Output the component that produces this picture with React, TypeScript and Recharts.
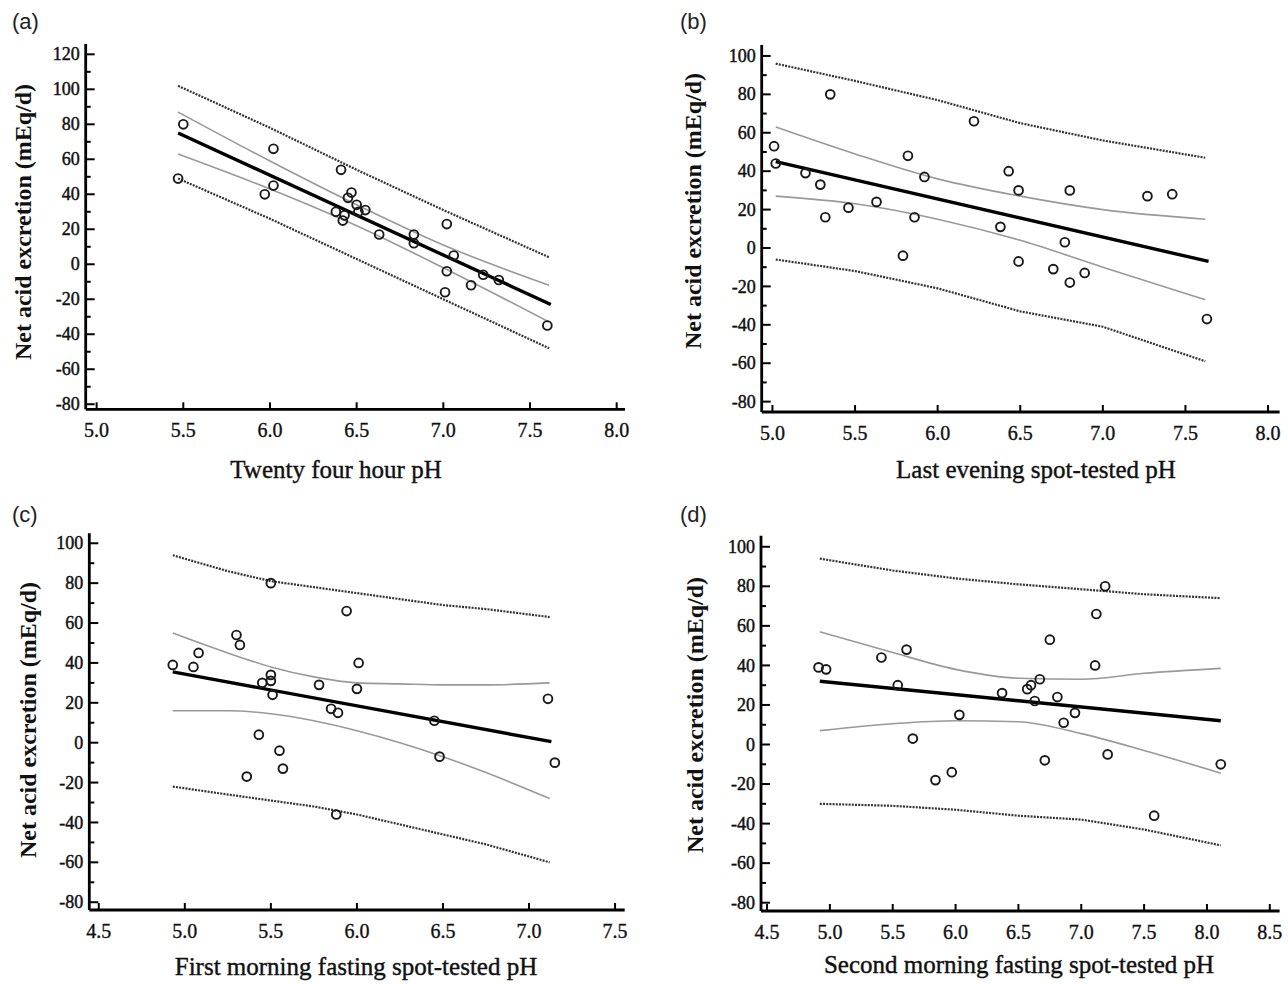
import React from 'react';
import { ComposedChart, Line, Scatter, XAxis, YAxis } from 'recharts';

// (a) Twenty four hour pH
const pHA = [5.47, 5.5, 6.02, 5.97, 6.02, 6.41, 6.38, 6.42, 6.43, 6.45, 6.47, 6.5, 6.51, 6.55, 6.63, 6.83, 6.83, 7.02, 7.02, 7.01, 7.06, 7.16, 7.23, 7.32, 7.6];
const naeA = [49, 80, 66, 40, 45, 54, 30, 25, 28, 38, 41, 34, 30, 31, 17, 17, 12, 23, -4, -16, 5, -12, -6, -9, -35];
const bandXA = [5.47, 6.0, 6.5, 7.0, 7.61];
const ciUpA = [87, 59, 34, 11, -12];
const ciLoA = [63, 43, 22, -2, -33];
const piUpA = [102, 78, 54, 31, 4];
const piLoA = [49, 26, 3, -20, -48];
const fitXA = [5.47, 7.62];
const fitA = [75, -23];

// (b) Last evening spot-tested pH
const pHB = [5.01, 5.02, 5.2, 5.29, 5.32, 5.35, 5.46, 5.63, 5.79, 5.82, 5.86, 5.92, 6.22, 6.38, 6.43, 6.49, 6.49, 6.7, 6.77, 6.8, 6.8, 6.89, 7.27, 7.42, 7.63];
const naeB = [53, 44, 39, 33, 16, 80, 21, 24, -4, 48, 16, 37, 66, 11, 40, 30, -7, -11, 3, 30, -18, -13, 27, 28, -37];
const bandXB = [5.02, 5.5, 6.0, 6.5, 7.0, 7.62];
const ciUpB = [63, 49, 36, 27, 20, 15];
const ciLoB = [27, 23, 15, 4, -10, -27];
const piUpB = [96, 87, 77, 65, 56, 47];
const piLoB = [-6, -12, -21, -33, -41, -59];
const fitXB = [5.02, 7.64];
const fitB = [45, -7];

// (c) First morning fasting spot-tested pH
const pHC = [4.93, 5.05, 5.08, 5.3, 5.32, 5.36, 5.43, 5.45, 5.5, 5.5, 5.5, 5.51, 5.55, 5.57, 5.78, 5.85, 5.89, 5.88, 5.94, 6.0, 6.01, 6.45, 6.48, 7.11, 7.15];
const naeC = [39, 38, 45, 54, 49, -17, 4, 30, 80, 34, 31, 24, -4, -13, 29, 17, 15, -36, 66, 27, 40, 11, -7, 22, -10];
const bandXC = [4.93, 5.25, 5.5, 5.75, 6.0, 6.25, 6.5, 6.75, 7.12];
const ciUpC = [55, 45, 38, 33, 30, 29.5, 29, 29, 30];
const ciLoC = [16, 16, 14.5, 11, 6, 0, -7, -15, -28];
const piUpC = [94, 86, 81, 78, 75, 72, 69, 67, 63];
const piLoC = [-22, -26, -29, -32, -36, -41, -46, -51, -60];
const fitXC = [4.93, 7.13];
const fitC = [35.5, 0.5];

// (d) Second morning fasting spot-tested pH
const pHD = [4.91, 4.97, 5.41, 5.54, 5.61, 5.66, 5.84, 5.97, 6.03, 6.37, 6.57, 6.6, 6.63, 6.67, 6.75, 6.71, 6.81, 6.86, 6.95, 7.11, 7.12, 7.19, 7.21, 7.58, 8.11];
const naeD = [39, 38, 44, 30, 48, 3, -18, -14, 15, 26, 28, 30, 22, 33, 53, -8, 24, 11, 16, 40, 66, 80, -5, -36, -10];
const bandXD = [4.92, 5.5, 6.0, 6.5, 7.0, 7.5, 8.11];
const ciUpD = [57, 46.5, 38, 33.5, 33, 36, 38.5];
const ciLoD = [7, 10.5, 12, 11.5, 5.5, -3, -14.5];
const piUpD = [94, 88, 84, 81, 78.5, 76, 74];
const piLoD = [-30, -31, -33, -36, -38, -43, -51];
const fitXD = [4.92, 8.11];
const fitD = [32, 12];

const xTicksAB = [5.0, 5.5, 6.0, 6.5, 7.0, 7.5, 8.0];
const xTicksC = [4.5, 5.0, 5.5, 6.0, 6.5, 7.0, 7.5];
const xTicksD = [4.5, 5.0, 5.5, 6.0, 6.5, 7.0, 7.5, 8.0, 8.5];
const yTicksA = [-80, -70, -60, -50, -40, -30, -20, -10, 0, 10, 20, 30, 40, 50, 60, 70, 80, 90, 100, 110, 120];
const yTicksBCD = [-80, -70, -60, -50, -40, -30, -20, -10, 0, 10, 20, 30, 40, 50, 60, 70, 80, 90, 100];

const toPts = (xs: number[], ys: number[]) => xs.map((x, i) => ({ x, y: ys[i] }));

const SERIF = '"Liberation Serif", "DejaVu Serif", serif';
const SANS = '"Liberation Sans", Arial, sans-serif';

function XTick(props: any) {
  const { x, y, payload } = props;
  return (
    <g>
      <line x1={x} y1={y} x2={x} y2={y - 7} stroke="#000" strokeWidth={2} />
      <text x={x} y={y + 28} textAnchor="middle" fontFamily={SERIF} fontSize={20} fill="#111" stroke="#111" strokeWidth={0.35}>
        {Number(payload.value).toFixed(1)}
      </text>
    </g>
  );
}

function YTick(props: any) {
  const { x, y, payload } = props;
  const major = Math.round(payload.value) % 20 === 0;
  return (
    <g>
      <line x1={x} y1={y} x2={x + (major ? 9 : 5)} y2={y} stroke="#000" strokeWidth={2} />
      {major && (
        <text x={x - 6} y={y} dy="0.34em" textAnchor="end" fontFamily={SERIF} fontSize={18} fill="#111" stroke="#111" strokeWidth={0.45}>
          {payload.value}
        </text>
      )}
    </g>
  );
}

const Ring = (p: any) => (
  <circle cx={p.cx} cy={p.cy} r={4.4} fill="none" stroke="#1a1a1a" strokeWidth={1.9} />
);

interface PanelProps {
  box: { left: number; top: number; w: number; h: number };
  plot: { x0: number; x1: number; y0: number; y1: number };
  xDomain: number[];
  yDomain: number[];
  xTicks: number[];
  yTicks: number[];
  points: { x: number; y: number }[];
  fit: { x: number; y: number }[];
  ciUp: { x: number; y: number }[];
  ciLo: { x: number; y: number }[];
  piUp: { x: number; y: number }[];
  piLo: { x: number; y: number }[];
}

function Panel({ box, plot, xDomain, yDomain, xTicks, yTicks, points, fit, ciUp, ciLo, piUp, piLo }: PanelProps) {
  const margin = {
    left: plot.x0 - box.left - 50,
    top: plot.y0 - box.top,
    right: box.left + box.w - plot.x1,
    bottom: box.top + box.h - plot.y1 - 40,
  };
  const axisLine = { stroke: '#000', strokeWidth: 2.8 };
  const dotted = { stroke: '#333', strokeWidth: 2.2, strokeDasharray: '2 1.2' };
  const ci = { stroke: '#999', strokeWidth: 1.6 };
  return (
    <div style={{ position: 'absolute', left: box.left, top: box.top }}>
      <ComposedChart width={box.w} height={box.h} margin={margin}>
        <XAxis
          type="number"
          dataKey="x"
          domain={xDomain}
          ticks={xTicks}
          interval={0}
          allowDataOverflow
          height={40}
          tickSize={0}
          tickMargin={0}
          tickLine={false}
          axisLine={axisLine}
          tick={(p: any) => <XTick {...p} />}
        />
        <YAxis
          type="number"
          dataKey="y"
          domain={yDomain}
          ticks={yTicks}
          interval={0}
          allowDataOverflow
          width={50}
          tickSize={0}
          tickMargin={0}
          tickLine={false}
          axisLine={axisLine}
          tick={(p: any) => <YTick {...p} />}
        />
        <Line data={piUp} dataKey="y" dot={false} activeDot={false} {...dotted} isAnimationActive={false} />
        <Line data={piLo} dataKey="y" dot={false} activeDot={false} {...dotted} isAnimationActive={false} />
        <Line data={ciUp} dataKey="y" type="monotone" dot={false} activeDot={false} {...ci} isAnimationActive={false} />
        <Line data={ciLo} dataKey="y" type="monotone" dot={false} activeDot={false} {...ci} isAnimationActive={false} />
        <Line data={fit} dataKey="y" dot={false} activeDot={false} stroke="#000" strokeWidth={3.4} isAnimationActive={false} />
        <Scatter data={points} shape={Ring} isAnimationActive={false} />
      </ComposedChart>
    </div>
  );
}

export default function App() {
  const titleStyle = { fontFamily: SERIF, fontSize: 25, fill: '#111', stroke: '#111', strokeWidth: 0.4 };
  const yTitleStyle = { fontFamily: SERIF, fontSize: 24, fontWeight: 700, fill: '#111' };
  const letterStyle = { fontFamily: SANS, fontSize: 22, fill: '#222' };
  const yTitle = 'Net acid excretion (mEq/d)';
  return (
    <div style={{ position: 'absolute', left: 0, top: 0, width: 1288, height: 984, background: '#fff' }}>
      <Panel
        box={{ left: 0, top: 0, w: 644, h: 492 }}
        plot={{ x0: 85.7, x1: 625, y0: 44, y1: 409.3 }}
        xDomain={[4.937, 8.048]}
        yDomain={[-82.9, 125.9]}
        xTicks={xTicksAB}
        yTicks={yTicksA}
        points={toPts(pHA, naeA)}
        fit={toPts(fitXA, fitA)}
        ciUp={toPts(bandXA, ciUpA)}
        ciLo={toPts(bandXA, ciLoA)}
        piUp={toPts(bandXA, piUpA)}
        piLo={toPts(bandXA, piLoA)}
      />
      <Panel
        box={{ left: 644, top: 0, w: 644, h: 492 }}
        plot={{ x0: 761.7, x1: 1279.6, y0: 45, y1: 412 }}
        xDomain={[4.935, 8.07]}
        yDomain={[-85.4, 105.7]}
        xTicks={xTicksAB}
        yTicks={yTicksBCD}
        points={toPts(pHB, naeB)}
        fit={toPts(fitXB, fitB)}
        ciUp={toPts(bandXB, ciUpB)}
        ciLo={toPts(bandXB, ciLoB)}
        piUp={toPts(bandXB, piUpB)}
        piLo={toPts(bandXB, piLoB)}
      />
      <Panel
        box={{ left: 0, top: 492, w: 644, h: 492 }}
        plot={{ x0: 89.3, x1: 624.7, y0: 533.3, y1: 910 }}
        xDomain={[4.445, 7.556]}
        yDomain={[-83.9, 105]}
        xTicks={xTicksC}
        yTicks={yTicksBCD}
        points={toPts(pHC, naeC)}
        fit={toPts(fitXC, fitC)}
        ciUp={toPts(bandXC, ciUpC)}
        ciLo={toPts(bandXC, ciLoC)}
        piUp={toPts(bandXC, piUpC)}
        piLo={toPts(bandXC, piLoC)}
      />
      <Panel
        box={{ left: 644, top: 492, w: 644, h: 492 }}
        plot={{ x0: 761, x1: 1279.6, y0: 535.7, y1: 911 }}
        xDomain={[4.452, 8.578]}
        yDomain={[-84.2, 105.6]}
        xTicks={xTicksD}
        yTicks={yTicksBCD}
        points={toPts(pHD, naeD)}
        fit={toPts(fitXD, fitD)}
        ciUp={toPts(bandXD, ciUpD)}
        ciLo={toPts(bandXD, ciLoD)}
        piUp={toPts(bandXD, piUpD)}
        piLo={toPts(bandXD, piLoD)}
      />
      <svg width={1288} height={984} style={{ position: 'absolute', left: 0, top: 0, pointerEvents: 'none' }}>
        <text x={12} y={29} {...letterStyle}>(a)</text>
        <text x={680} y={29} {...letterStyle}>(b)</text>
        <text x={12} y={522} {...letterStyle}>(c)</text>
        <text x={680} y={522} {...letterStyle}>(d)</text>

        <text transform="translate(22.6,222) rotate(-90)" textAnchor="middle" dominantBaseline="central" {...yTitleStyle}>{yTitle}</text>
        <text transform="translate(693,211) rotate(-90)" textAnchor="middle" dominantBaseline="central" {...yTitleStyle}>{yTitle}</text>
        <text transform="translate(27.7,720) rotate(-90)" textAnchor="middle" dominantBaseline="central" {...yTitleStyle}>{yTitle}</text>
        <text transform="translate(695,715) rotate(-90)" textAnchor="middle" dominantBaseline="central" {...yTitleStyle}>{yTitle}</text>

        <text x={336} y={478} textAnchor="middle" {...titleStyle}>Twenty four hour pH</text>
        <text x={1036} y={478} textAnchor="middle" {...titleStyle}>Last evening spot-tested pH</text>
        <text x={356} y={975} textAnchor="middle" {...titleStyle}>First morning fasting spot-tested pH</text>
        <text x={1019} y={973} textAnchor="middle" {...titleStyle}>Second morning fasting spot-tested pH</text>
      </svg>
    </div>
  );
}
